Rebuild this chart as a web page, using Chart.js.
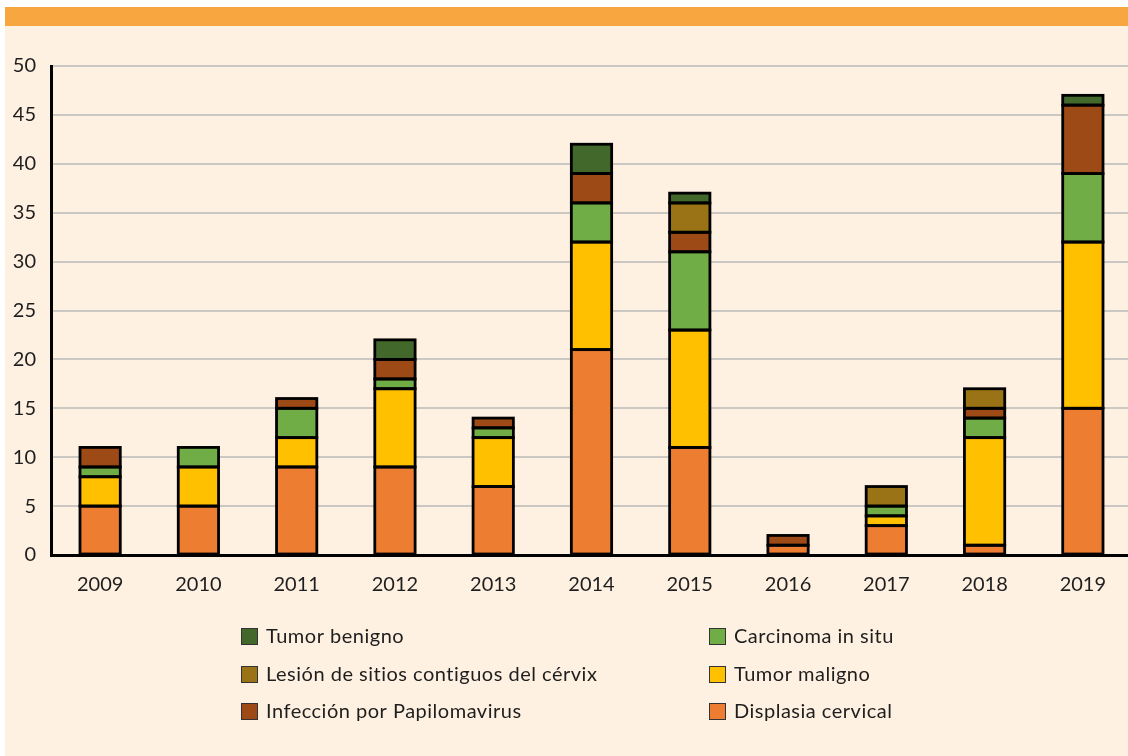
<!DOCTYPE html>
<html>
<head>
<meta charset="utf-8">
<script src="https://cdn.jsdelivr.net/npm/chart.js@4/dist/chart.umd.min.js"></script>
<style>
  html, body { margin: 0; padding: 0; background: #ffffff; width: 1128px; height: 756px; overflow: hidden; }
  #band { position: absolute; left: 5px; top: 7px; width: 1123px; height: 19px; background: #F8A740; }
  #panel { position: absolute; left: 5px; top: 26px; width: 1123px; height: 730px; background: #FEF1E2; }
  #wrap { position: absolute; left: 0; top: 0; width: 1136px; height: 756px; }
</style>
</head>
<body>
<div id="band"></div>
<div id="panel"></div>
<div id="wrap"><canvas id="c" width="1136" height="756"></canvas></div>
<script>
const categories = ['2009','2010','2011','2012','2013','2014','2015','2016','2017','2018','2019'];
const displasia  = [5, 5, 9, 9, 7, 21, 11, 1, 3, 1, 15];
const maligno    = [3, 4, 3, 8, 5, 11, 12, 0, 1, 11, 17];
const carcinoma  = [1, 2, 3, 1, 1, 4, 8, 0, 1, 2, 7];
const infeccion  = [2, 0, 1, 2, 1, 3, 2, 1, 0, 1, 7];
const lesion     = [0, 0, 0, 0, 0, 0, 3, 0, 2, 2, 0];
const benigno    = [0, 0, 0, 2, 0, 3, 1, 0, 0, 0, 1];
const yTicks = [0, 5, 10, 15, 20, 25, 30, 35, 40, 45, 50];

const FONT = 'Lato, "Open Sans", sans-serif';

function ds(label, data, color) {
  return { label, data, backgroundColor: color, borderWidth: 0,
           barPercentage: 0.41, categoryPercentage: 1.0 };
}

const datasets = [
  ds('Displasia cervical', displasia, '#ED7D31'),
  ds('Tumor maligno', maligno, '#FFC000'),
  ds('Carcinoma in situ', carcinoma, '#70AD47'),
  ds('Infección por Papilomavirus', infeccion, '#9E4A16'),
  ds('Lesión de sitios contiguos del cérvix', lesion, '#997316'),
  ds('Tumor benigno', benigno, '#43682B')
];

// Outline each bar segment with a centered black stroke
const outlinePlugin = {
  id: 'outline',
  afterDatasetsDraw(chart) {
    const ctx = chart.ctx;
    ctx.save();
    ctx.strokeStyle = '#000000';
    ctx.lineWidth = 2.8;
    chart.data.datasets.forEach((d, di) => {
      const meta = chart.getDatasetMeta(di);
      meta.data.forEach((el, i) => {
        if (!d.data[i]) return;
        const p = el.getProps(['x', 'y', 'base', 'width'], true);
        ctx.strokeRect(p.x - p.width / 2, p.y, p.width, p.base - p.y);
      });
    });
    ctx.restore();
  }
};

// Legend layout: two columns, column-major, reverse dataset order
const legendPlugin = {
  id: 'customLegend',
  afterDraw(chart) {
    const ctx = chart.ctx;
    const items = chart.data.datasets.slice().reverse();
    const colX = [241, 709];
    const rowY = [636, 674, 711];
    ctx.save();
    ctx.font = '20px ' + FONT;
    try { ctx.letterSpacing = '0.5px'; } catch (e) {}
    ctx.textBaseline = 'middle';
    ctx.textAlign = 'left';
    items.forEach((d, i) => {
      const col = Math.floor(i / 3), row = i % 3;
      const x = colX[col], y = rowY[row];
      ctx.fillStyle = d.backgroundColor;
      ctx.fillRect(x, y - 8, 16, 16);
      ctx.strokeStyle = '#333';
      ctx.lineWidth = 1;
      ctx.strokeRect(x + 0.5, y - 7.5, 16, 16);
      ctx.fillStyle = '#1e1e1e';
      ctx.fillText(d.label, x + 25, y + 1);
    });
    ctx.restore();
  }
};

new Chart(document.getElementById('c'), {
  type: 'bar',
  data: { labels: categories, datasets },
  options: {
    responsive: false,
    animation: false,
    layout: { padding: { top: 66, right: 4, left: 0, bottom: 0 } },
    plugins: { legend: { display: false }, tooltip: { enabled: false } },
    scales: {
      x: {
        stacked: true,
        grid: { display: false, drawTicks: false },
        border: { color: '#000000', width: 3 },
        ticks: { color: '#1e1e1e', font: { family: FONT, size: 20 }, padding: 18, maxRotation: 0 },
        afterFit(s) { s.height = 201; }
      },
      y: {
        stacked: true,
        min: 0, max: 50,
        afterBuildTicks(s) { s.ticks = yTicks.map(v => ({ value: v })); },
        grid: { color: '#CBC7C3', lineWidth: 2, drawTicks: false },
        border: { color: '#000000', width: 3 },
        ticks: { color: '#1e1e1e', font: { family: FONT, size: 20 }, padding: 15 },
        afterFit(s) { s.width = 51; }
      }
    }
  },
  plugins: [outlinePlugin, legendPlugin]
});
</script>
</body>
</html>
